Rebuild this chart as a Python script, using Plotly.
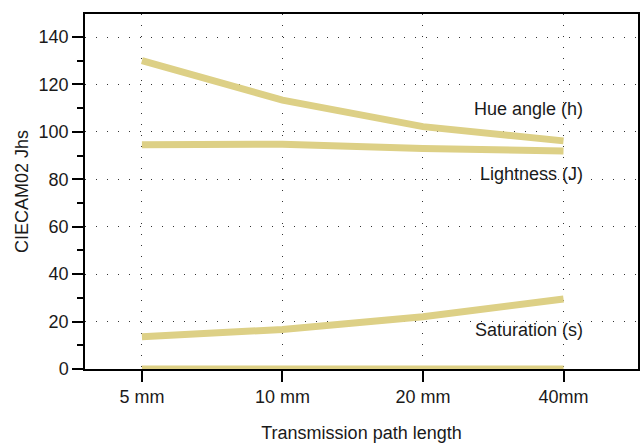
import plotly.graph_objects as go

# Path lengths and CIECAM02 correlates
path_lengths = ["5 mm", "10 mm", "20 mm", "40mm"]
hue_angle = [130.0, 113.4, 102.2, 96.2]
lightness = [94.6, 94.8, 93.0, 91.9]
saturation = [13.6, 16.7, 22.0, 29.5]
baseline = [0, 0, 0, 0]

series_labels = ["Hue angle (h)", "Lightness (J)", "Saturation (s)"]
label_levels = [109.6, 82.2, 16.4]

LINE_COLOR = "#ddd086"
FONT = "Liberation Sans, Arial, sans-serif"

fig = go.Figure()
for values in (hue_angle, lightness, saturation, baseline):
    fig.add_trace(go.Scatter(
        x=path_lengths, y=values, mode="lines",
        line=dict(color=LINE_COLOR, width=7),
        showlegend=False, hoverinfo="skip",
    ))

for text, level in zip(series_labels, label_levels):
    fig.add_annotation(
        x=path_lengths[-1], y=level, text=text, showarrow=False,
        xanchor="right", yanchor="middle", xshift=21,
        font=dict(family=FONT, size=18, color="#1a1a1a"),
    )

grid = dict(showgrid=True, gridcolor="#333333", gridwidth=1, griddash="1px,10px")

fig.update_layout(
    width=642, height=445,
    margin=dict(l=85, r=2, t=14, b=76),
    paper_bgcolor="white", plot_bgcolor="white",
    font=dict(family=FONT, size=18, color="#1a1a1a"),
    xaxis=dict(
        type="category", range=[-0.405, 3.53],
        showline=True, linecolor="black", linewidth=1.5, mirror=True,
        ticks="outside", ticklen=11, tickcolor="black", tickwidth=1.5,
        tickfont=dict(size=18),
        title=dict(text="Transmission path length", font=dict(size=18), standoff=20),
        zeroline=False, **grid,
    ),
    yaxis=dict(
        range=[0, 149.7], tickvals=[0, 20, 40, 60, 80, 100, 120, 140],
        showline=True, linecolor="black", linewidth=1.5, mirror=True,
        ticks="outside", ticklen=11, tickcolor="black", tickwidth=1.5,
        minor=dict(dtick=10, ticks="outside", ticklen=6, tickcolor="black", tickwidth=1.5, showgrid=False),
        tickfont=dict(size=18),
        title=dict(text="CIECAM02 Jhs", font=dict(size=18), standoff=5),
        zeroline=False, **grid,
    ),
)

fig.write_html("out.html")
